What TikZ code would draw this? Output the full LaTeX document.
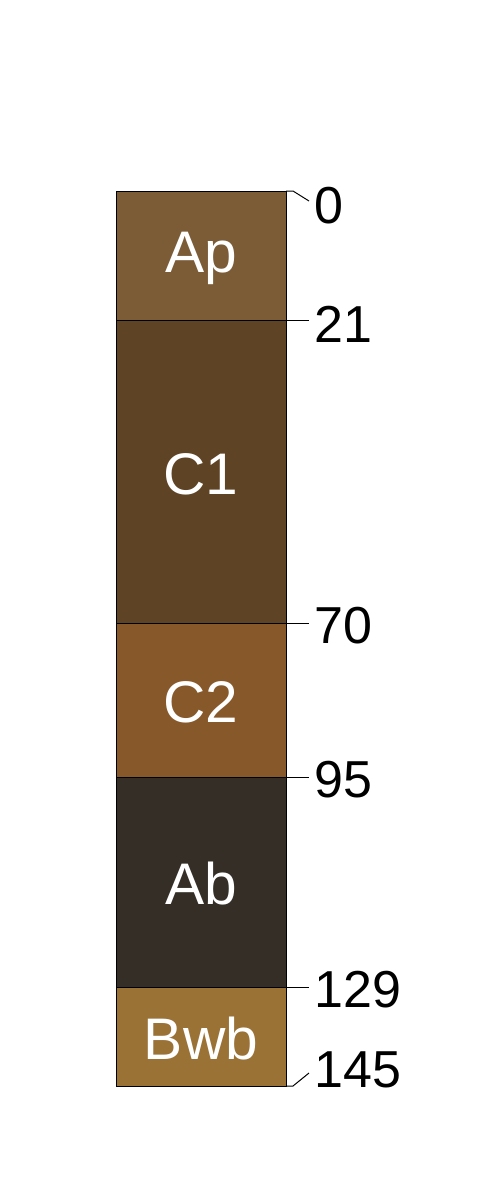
\documentclass[tikz,border=0pt]{standalone}
\usepackage{fontspec}
\setmainfont{Liberation Sans}
\usepackage{xcolor}

\definecolor{colAp}{RGB}{123,92,55}
\definecolor{colCa}{RGB}{94,67,37}
\definecolor{colCb}{RGB}{135,88,42}
\definecolor{colAb}{RGB}{53,46,39}
\definecolor{colBwb}{RGB}{154,114,54}

\tikzset{
	layer/.style={draw=black, line width=0.75},
	hname/.style={text=white, inner sep=0.75pt, font=\fontsize{44}{44}\selectfont},
	depth/.style={anchor=west, inner sep=0.75pt, font=\fontsize{39}{39}\selectfont},
	tick/.style={draw=black, line width=0.75}
}

\begin{document}
\begin{tikzpicture}[x=0.75pt,y=0.75pt,yscale=-1,xscale=1]
	\useasboundingbox (0,0) rectangle (500,1200);
	
	%Layers
	\draw [layer, fill=colAp] (116,191) rectangle (286,320.6) ;
	\draw [layer, fill=colCa] (116,320.6) rectangle (286,623) ;
	\draw [layer, fill=colCb] (116,623) rectangle (286,777.4) ;
	\draw [layer, fill=colAb] (116,777.4) rectangle (286,987.2) ;
	\draw [layer, fill=colBwb] (116,987.2) rectangle (286,1086) ;
	
	% Horizon names
	\node [hname] (ap) at (201,258) {Ap};
	\node [hname] (ca) at (201,474) {C1};
	\node [hname] (cb) at (201,702) {C2};
	\node [hname] (ab) at (201,884) {Ab};
	\node [hname] (bwb) at (201,1039) {Bwb};
	
	% Depth labels
	\node [depth] (d0) at (313,206) {0};
	\node [depth] (d21) at (313,324) {21};
	\node [depth] (d70) at (313,626) {70};
	\node [depth] (d95) at (313,780) {95};
	\node [depth] (d129) at (313,990) {129};
	\node [depth] (d145) at (313,1070) {145};
	
	% Tick ends on the column
	\coordinate (e0) at (286,191);
	\coordinate (e21) at (286,320.6);
	\coordinate (e70) at (286,623);
	\coordinate (e95) at (286,777.4);
	\coordinate (e129) at (286,987.2);
	\coordinate (e145) at (286,1086);
	
	% Ticks
	\draw [tick] (e0) -- ++(7,0) -- (309,201) ;
	\draw [tick] (e21) -- (309,320.6) ;
	\draw [tick] (e70) -- (309,623) ;
	\draw [tick] (e95) -- (309,777.4) ;
	\draw [tick] (e129) -- (309,987.2) ;
	\draw [tick] (e145) -- ++(7,0) -- (309,1073) ;
	
\end{tikzpicture}
\end{document}
